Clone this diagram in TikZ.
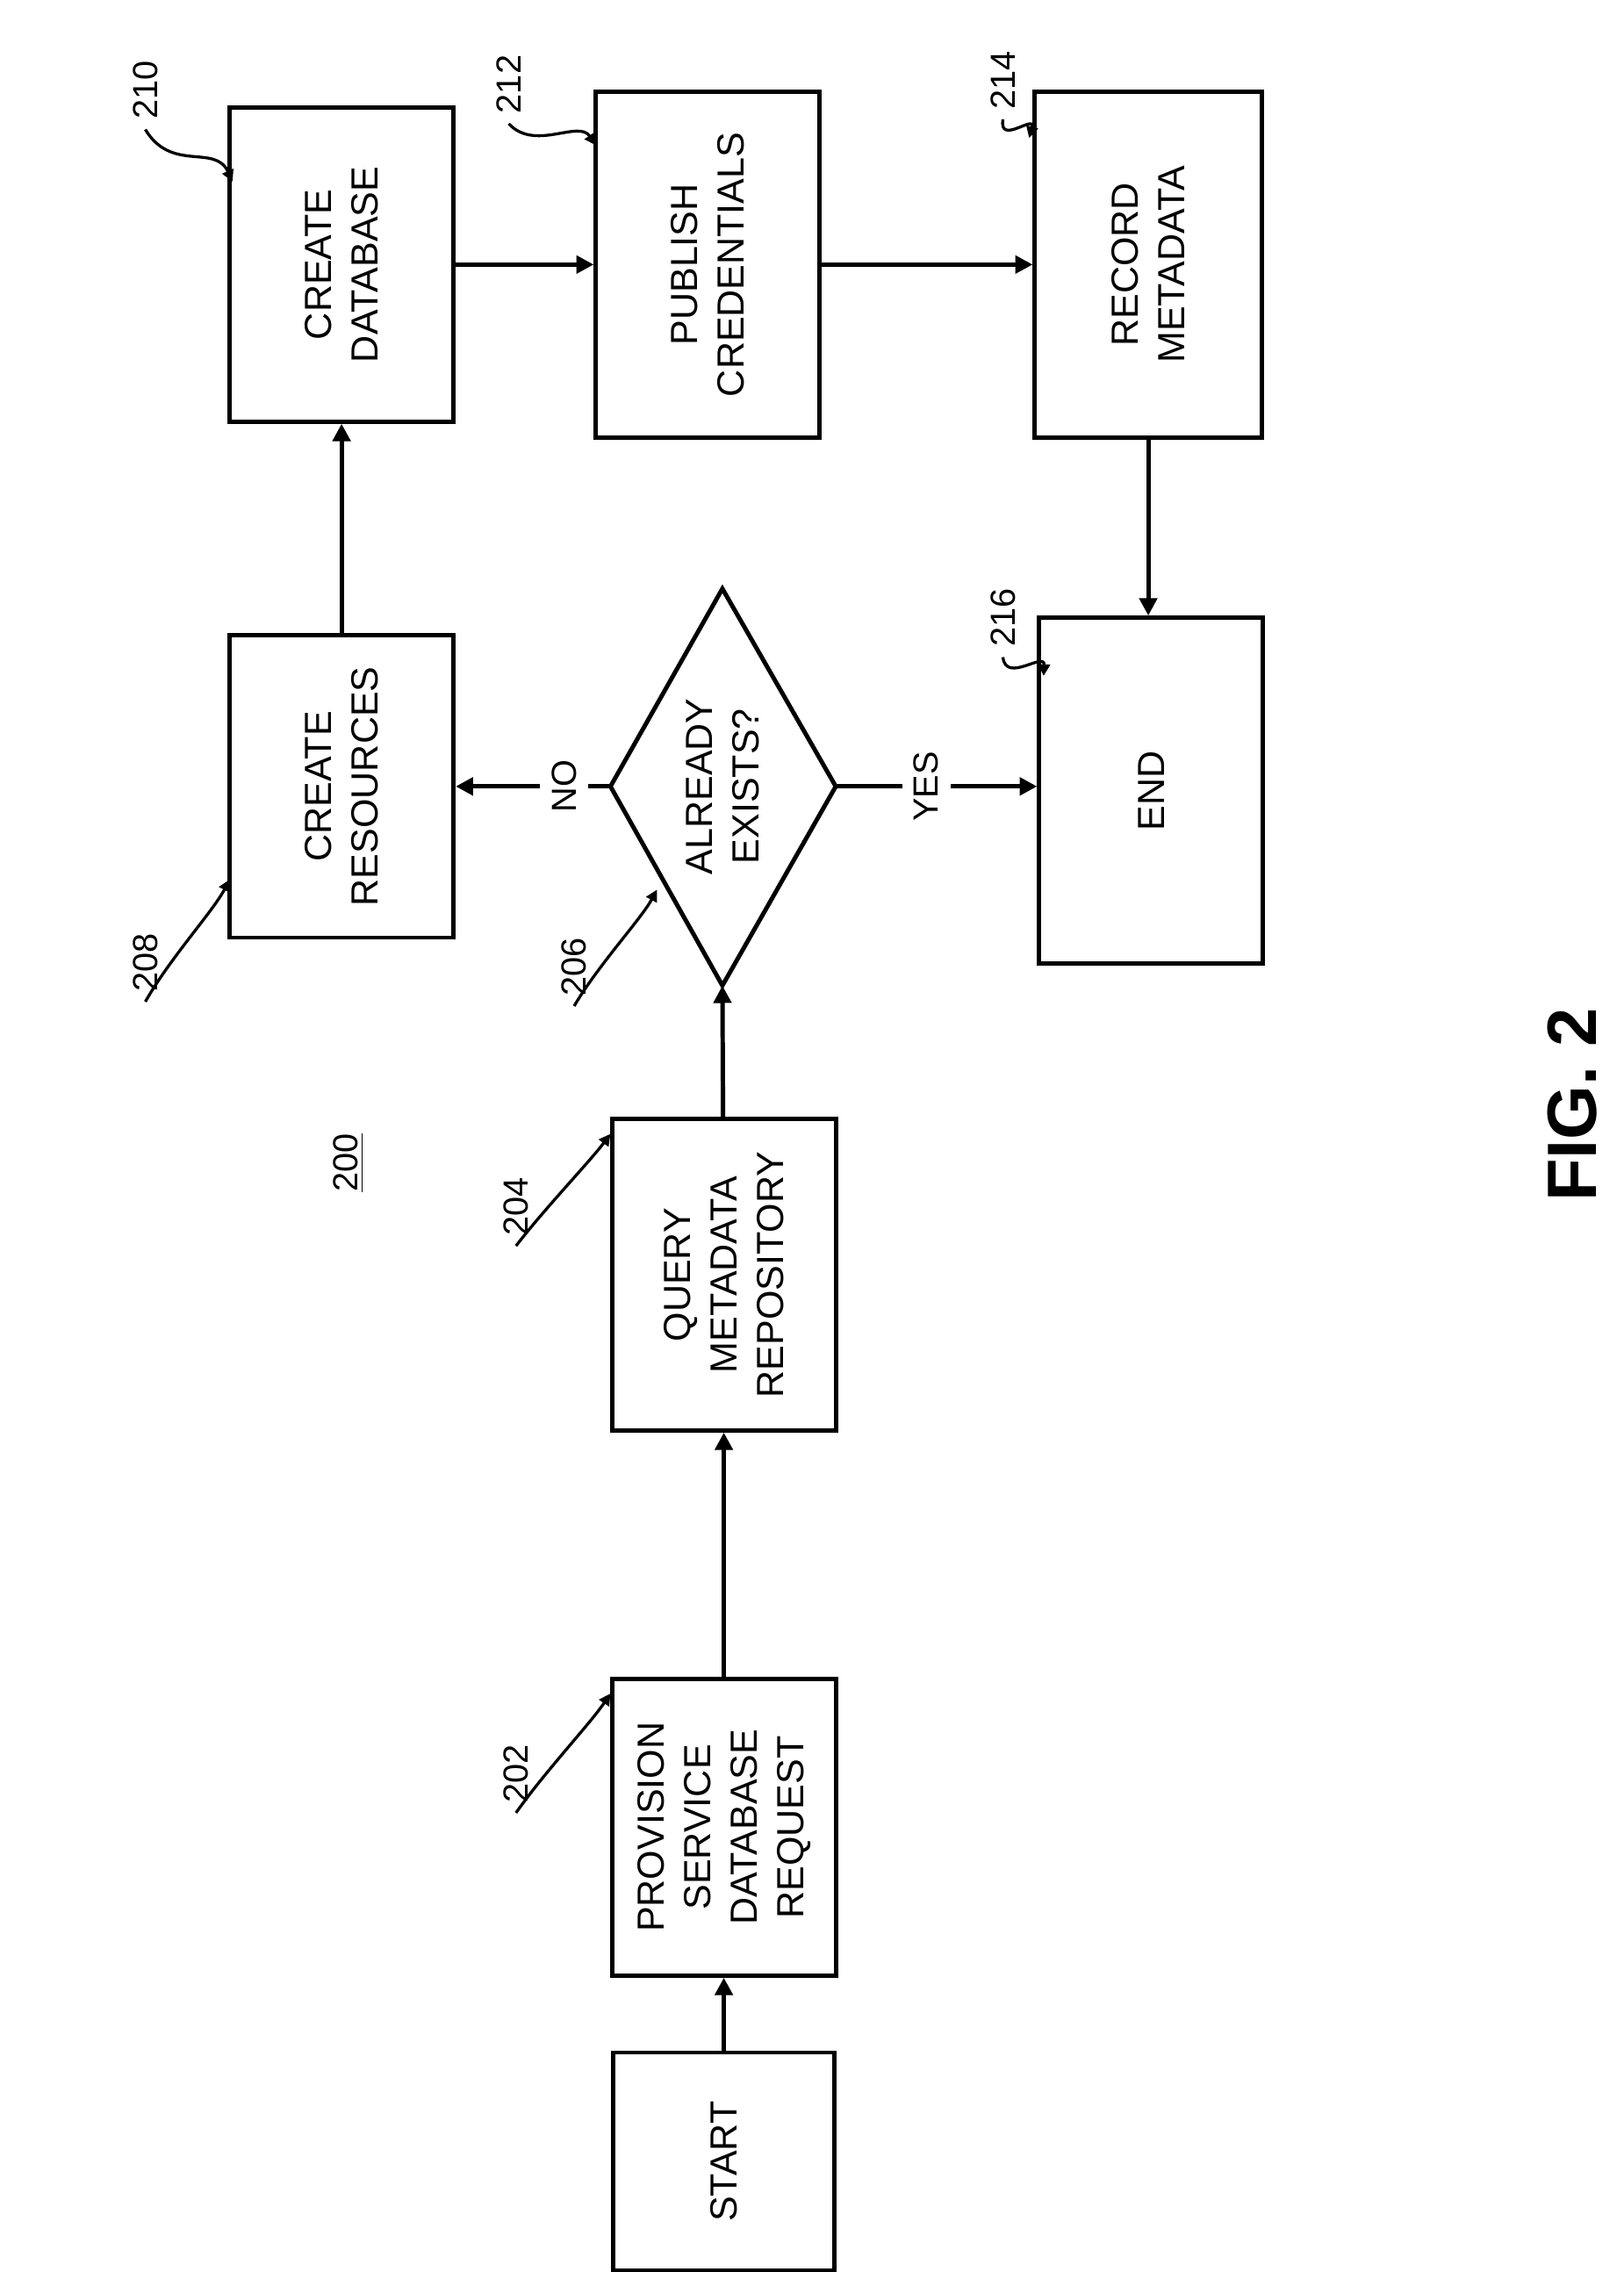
\documentclass[tikz,border=0pt]{standalone}
\usepackage{fontspec}
\setmainfont{Liberation Sans}
\usetikzlibrary{arrows.meta}
\usetikzlibrary{calc}

\tikzset{
  box/.style={draw, line width=1.5pt, rotate=90, align=center, inner sep=0pt,
    font=\fontsize{13}{16}\selectfont},
  flow/.style={line width=1.5pt, -{Triangle[length=6pt,width=6pt]}},
  refnum/.style={rotate=90, font=\fontsize{12}{14}\selectfont},
  lead/.style={line width=1pt, -{Triangle[length=4pt,width=4pt]}}
}

\begin{document}
\begin{tikzpicture}[x=0.5pt, y=-0.5pt]
  \useasboundingbox (0,0) rectangle (1117,1563);
  % boxes (rotated page)
  \node[box, minimum width=75pt, minimum height=76pt] (start) at (498,1487) {START};
  \node[box, minimum width=102pt, minimum height=77pt] (p202) at (498,1257) {PROVISION\\SERVICE\\DATABASE\\REQUEST};
  \node[box, minimum width=107pt, minimum height=77pt] (q204) at (498,877) {QUERY\\METADATA\\REPOSITORY};
  \node[box, minimum width=104pt, minimum height=77pt] (r208) at (235,541) {CREATE\\RESOURCES};
  \node[box, minimum width=108pt, minimum height=77pt] (c210) at (235,182) {CREATE\\DATABASE};
  \node[box, minimum width=119pt, minimum height=77pt] (p212) at (487,182) {PUBLISH\\CREDENTIALS};
  \node[box, minimum width=119pt, minimum height=78pt] (r214) at (790,182) {RECORD\\METADATA};
  \node[box, minimum width=119pt, minimum height=77pt] (e216) at (792,544) {END};
  % decision
  \coordinate (dT) at (497,405);
  \coordinate (dB) at (497,678);
  \coordinate (dL) at (420,541);
  \coordinate (dR) at (575,541);
  \draw[line width=1.5pt] (dT) -- (dR) -- (dB) -- (dL) -- cycle;
  \node[rotate=90, align=center, font=\fontsize{13}{16}\selectfont] (d206) at (497,541) {ALREADY\\EXISTS?};
  % flow
  \draw[flow] (start) -- (p202);
  \draw[flow] (p202) -- (q204);
  \draw[flow] (q204) -- (dB);
  \draw[flow] (dL) -- node[refnum, fill=white, inner sep=4pt, pos=0.3] (no) {NO} (dL -| r208.south);
  \draw[flow] (dR) -- node[refnum, fill=white, inner sep=4pt, pos=0.45] (yes) {YES} (dR -| e216.north);
  \draw[flow] (r208) -- (c210);
  \draw[flow] (c210) -- (p212);
  \draw[flow] (p212) -- (r214);
  \draw[flow] (r214) -- (r214 |- e216.east);
  % reference numerals
  \node[refnum] (n200) at (240,800) {\underline{200}};
  \node[rotate=90, font=\bfseries\fontsize{24}{28}\selectfont] (fig) at (1082,760) {FIG. 2};
  \node[refnum] (n202) at (355,1220) {202};
  \node[refnum] (n204) at (355,830) {204};
  \node[refnum] (n206) at (395,665) {206};
  \node[refnum] (n208) at (100,662) {208};
  \node[refnum] (n210) at (100,62) {210};
  \node[refnum] (n212) at (350,58) {212};
  \node[refnum] (n214) at (690,55) {214};
  \node[refnum] (n216) at (690,425) {216};
  \coordinate (t202) at (420,1165);
  \coordinate (t204) at (420,780);
  \coordinate (t206) at (452,612);
  \coordinate (t208) at (158,605);
  \coordinate (t210) at (160,125);
  \coordinate (t212) at (410,100);
  \coordinate (t214) at (708,95);
  \coordinate (t216) at (718,465);
  \foreach \n in {202,204,206,208,210,212,214,216}
    \draw[lead] (n\n.west) .. controls ($(n\n.west)!0.5!(t\n)+(-12,12)$) and ($(n\n.west)!0.6!(t\n)+(12,-12)$) .. (t\n);
\end{tikzpicture}
\end{document}
